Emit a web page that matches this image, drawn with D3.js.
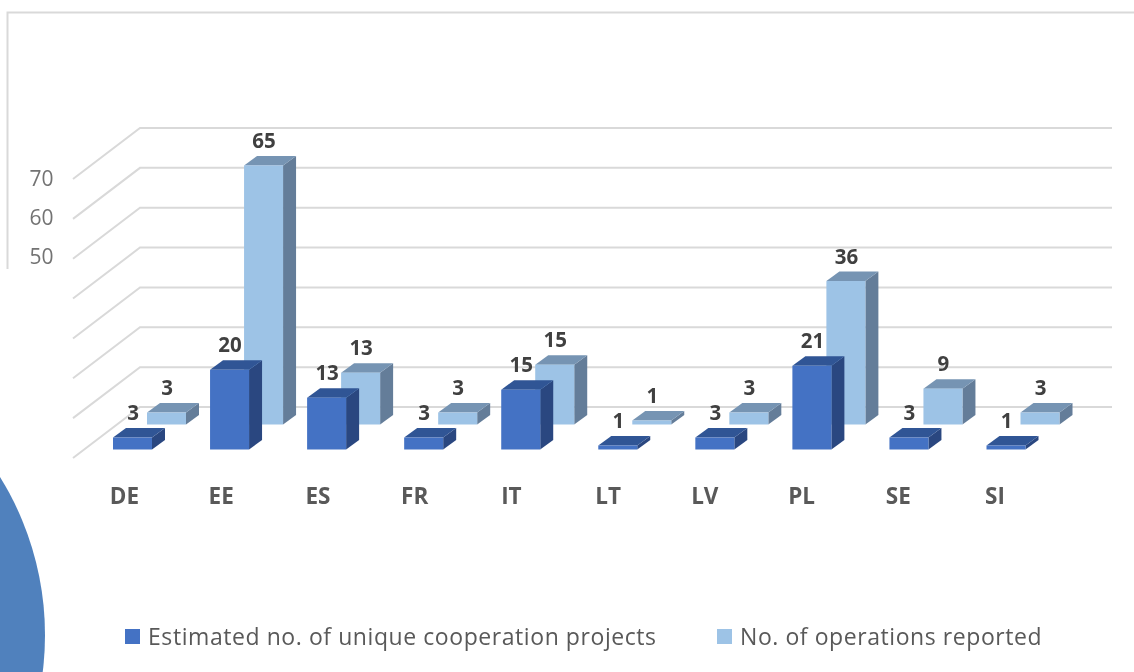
<!DOCTYPE html>
<html><head><meta charset="utf-8">
<script src="https://cdn.jsdelivr.net/npm/d3@7/dist/d3.min.js"></script>
<style>html,body{margin:0;padding:0;background:#fff}svg{display:block;filter:blur(0.4px)}</style></head>
<body><svg id="c" width="1134" height="672"></svg>
<script>
const categories = ["DE","EE","ES","FR","IT","LT","LV","PL","SE","SI"];
const projects = [3,20,13,3,15,1,3,21,3,1];
const operations = [3,65,13,3,15,1,3,36,9,3];
const seriesNames = ["Estimated no. of unique cooperation projects","No. of operations reported"];
const gridValues = [0,10,20,30,40,50,60,70];
const tickLabels = [50,60,70];

const font = "'Open Sans', sans-serif";
const svg = d3.select("#c");
const x = d3.scalePoint().domain(categories).range([113,986.5]);
const labelX = d3.scalePoint().domain(categories).range([124.5,995]);
const y = d3.scaleLinear().domain([0,70]).range([407,128]);
const barW = 39, dx = 13, dy = 9.5;
const frontOff = 42.5, backOff = 17.5, backX = 34;

// frame
svg.append("path").attr("d","M7.5,269V12.5H1134").attr("fill","none").attr("stroke","#d9d9d9").attr("stroke-width",2);
// decorative circle
svg.append("circle").attr("cx",-255).attr("cy",635).attr("r",300).attr("fill","#5081bd");

// grid
const grid = svg.append("g").attr("fill","none").attr("stroke","#d9d9d9").attr("stroke-width",2);
grid.selectAll("path").data(gridValues).join("path")
  .attr("d",v=>`M73,${y(v)+51}L140,${y(v)}H1112`);

// tick labels
svg.append("g").selectAll("text").data(tickLabels).join("text")
  .attr("x",53.5).attr("y",v=>y(v)+58-(70-v)*0.1).attr("text-anchor","end")
  .attr("font-family",font).attr("font-size",21).attr("fill","#737373").text(d=>d);

function bars(values, xo, yo, front, top, side){
  const g = svg.append("g");
  categories.forEach((c,i)=>{
    const l = x(c)+xo, b = y(0)+yo, t = y(values[i])+yo;
    g.append("path").attr("fill",side).attr("d",`M${l+barW},${t}l${dx},${-dy}V${b-dy}l${-dx},${dy}Z`);
    g.append("path").attr("fill",top).attr("d",`M${l},${t}l${dx},${-dy}h${barW}l${-dx},${dy}Z`);
    g.append("rect").attr("x",l).attr("y",t).attr("width",barW).attr("height",b-t).attr("fill",front);
  });
}
bars(operations, backX, backOff, "#9dc3e6", "#7694b3", "#647d99");
bars(projects, 0, frontOff, "#4472c4", "#305595", "#2a4780");

// value labels
function labels(values, xo, yo){
  svg.append("g").selectAll("text").data(values).join("text")
    .attr("x",(v,i)=>x(categories[i])+xo+barW/2+0.5)
    .attr("y",v=>y(v)+yo-17.5).attr("text-anchor","middle")
    .attr("font-family",font).attr("font-weight",700).attr("font-size",20.5).attr("fill","#404040").text(d=>d);
}
labels(operations, backX, backOff);
labels(projects, 0, frontOff);

// category labels
svg.append("g").selectAll("text").data(categories).join("text")
  .attr("x",c=>labelX(c)).attr("y",504).attr("text-anchor","middle")
  .attr("font-family",font).attr("font-weight",700).attr("font-size",22.5).attr("fill","#595959").text(d=>d);

// legend
const lx = [125,717], colors = ["#4472c4","#9dc3e6"];
const leg = svg.append("g");
seriesNames.forEach((n,i)=>{
  leg.append("rect").attr("x",lx[i]).attr("y",629).attr("width",15).attr("height",15).attr("fill",colors[i]);
  leg.append("text").attr("x",lx[i]+23).attr("y",645).attr("font-family",font).attr("font-size",23).attr("letter-spacing",0.57).attr("fill","#595959").text(n);
});
</script></body></html>
